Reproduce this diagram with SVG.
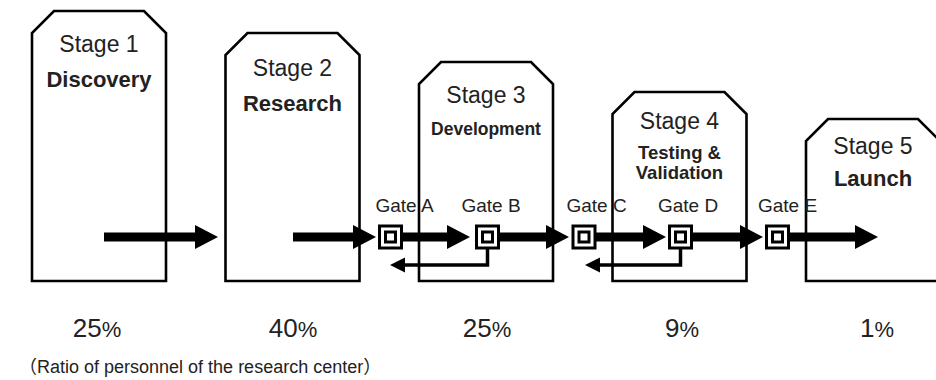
<svg xmlns="http://www.w3.org/2000/svg" width="936" height="380" viewBox="0 0 936 380">
<style>
.box{fill:#fff;stroke:#000;stroke-width:2.6;stroke-linejoin:miter}
.t{font-family:"Liberation Sans",Arial,sans-serif;fill:#222}
.st{font-size:23px;text-anchor:middle}
.b{font-weight:bold;text-anchor:middle}
.g{font-size:19px}
.p{font-size:26px;text-anchor:middle}
.cap{font-family:"Liberation Sans","Noto Sans CJK JP",sans-serif;font-size:18px;fill:#222}
.main{stroke:#000;stroke-width:9;fill:none}
.fb{stroke:#000;stroke-width:3.5;fill:none}
.go{fill:#fff;stroke:#000;stroke-width:3}
.gi{fill:#fff;stroke:#000;stroke-width:3}
</style>
<defs>
<marker id="ah" markerUnits="userSpaceOnUse" markerWidth="24" markerHeight="25" viewBox="0 0 24 25" refX="1" refY="12" orient="auto">
<path d="M0,0 L23,12 L0,24 z" fill="#000"/>
</marker>
<marker id="sh" markerUnits="userSpaceOnUse" markerWidth="16" markerHeight="16" viewBox="0 0 16 16" refX="1" refY="8" orient="auto">
<path d="M0,0.5 L15,8 L0,15.5 z" fill="#000"/>
</marker>
</defs>

<g id="stage1">
<polygon class="box" points="32,281 32,33 54,11 144,11 166,33 166,281"/>
<text class="t st" x="99" y="52">Stage 1</text>
<text class="t b" x="99" y="87" font-size="22">Discovery</text>
</g>
<g id="stage2">
<polygon class="box" points="225.5,281 225.5,55 247.5,33 337.5,33 359.5,55 359.5,281"/>
<text class="t st" x="292.5" y="76">Stage 2</text>
<text class="t b" x="292.5" y="111" font-size="22">Research</text>
</g>
<g id="stage3">
<polygon class="box" points="419,281 419,84 441,62 531,62 553,84 553,281"/>
<text class="t st" x="486" y="103">Stage 3</text>
<text class="t b" x="486" y="135" font-size="17.5">Development</text>
</g>
<g id="stage4">
<polygon class="box" points="612.5,281 612.5,114 634.5,92 724.5,92 746.5,114 746.5,281"/>
<text class="t st" x="679.5" y="129">Stage 4</text>
<text class="t b" x="679.5" y="159" font-size="18.5">Testing &amp;</text>
<text class="t b" x="679.5" y="179" font-size="18.5">Validation</text>
</g>
<g id="stage5">
<polygon class="box" points="806,281 806,141 828,119 918,119 940,141 940,281"/>
<text class="t st" x="873" y="154">Stage 5</text>
<text class="t b" x="873" y="186" font-size="22">Launch</text>
</g>

<g id="connectors">
<path class="main" d="M104,237 H196" marker-end="url(#ah)"/>
<path class="main" d="M293,237 H354" marker-end="url(#ah)"/>
<path class="main" d="M402,237 H448" marker-end="url(#ah)"/>
<path class="main" d="M498,237 H547" marker-end="url(#ah)"/>
<path class="main" d="M595,237 H644" marker-end="url(#ah)"/>
<path class="main" d="M692,237 H741" marker-end="url(#ah)"/>
<path class="main" d="M789,237 H856" marker-end="url(#ah)"/>
<path class="fb" d="M487.5,249 V265 H404" marker-end="url(#sh)"/>
<path class="fb" d="M680.5,249 V265 H599" marker-end="url(#sh)"/>
</g>

<g id="gateA">
<rect class="go" x="379.5" y="226" width="22" height="22"/>
<rect class="gi" x="385.5" y="232" width="10" height="10"/>
<text class="t g" x="375.5" y="212">Gate A</text>
</g>
<g id="gateB">
<rect class="go" x="476.5" y="226" width="22" height="22"/>
<rect class="gi" x="482.5" y="232" width="10" height="10"/>
<text class="t g" x="461.5" y="212">Gate B</text>
</g>
<g id="gateC">
<rect class="go" x="573" y="226" width="22" height="22"/>
<rect class="gi" x="579" y="232" width="10" height="10"/>
<text class="t g" x="566.5" y="212">Gate C</text>
</g>
<g id="gateD">
<rect class="go" x="669.5" y="226" width="22" height="22"/>
<rect class="gi" x="675.5" y="232" width="10" height="10"/>
<text class="t g" x="658" y="212">Gate D</text>
</g>
<g id="gateE">
<rect class="go" x="766.5" y="226" width="22" height="22"/>
<rect class="gi" x="772.5" y="232" width="10" height="10"/>
<text class="t g" x="758" y="212">Gate E</text>
</g>

<g id="ratios">
<text class="t p" x="97" y="337">25<tspan font-size="22">%</tspan></text>
<text class="t p" x="293" y="337">40<tspan font-size="22">%</tspan></text>
<text class="t p" x="487" y="337">25<tspan font-size="22">%</tspan></text>
<text class="t p" x="682" y="337">9<tspan font-size="22">%</tspan></text>
<text class="t p" x="877" y="337">1<tspan font-size="22">%</tspan></text>
<text class="cap" x="19" y="373">（Ratio of personnel of the research center）</text>
</g>
</svg>
